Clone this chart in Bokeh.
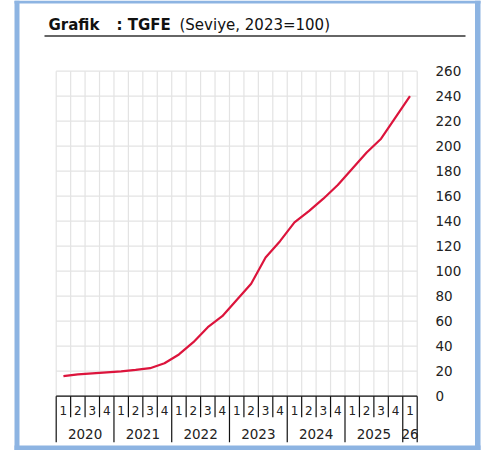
from bokeh.plotting import figure
from bokeh.models import Range1d
from bokeh.core.properties import value
from bokeh.embed import file_html
from bokeh.resources import INLINE

# ---- data ----
years = ["2020", "2021", "2022", "2023", "2024", "2025", "26"]
quarters_per_year = [4, 4, 4, 4, 4, 4, 1]
quarter_labels = ["1", "2", "3", "4"] * 6 + ["1"]
tgfe = [16, 17.4, 18.2, 19, 19.8, 21, 22.4, 26.4,
        33.4, 43.2, 55.2, 64, 77, 90, 111, 124,
        139, 148, 158, 169, 182, 195, 206, 223, 240]
y_ticks = list(range(0, 261, 20))
title_parts = ["Grafik", ": TGFE", "(Seviye, 2023=100)"]
title_styles = ["bold", "bold", "normal"]

FONT = "DejaVu Sans"
TXT = "#222222"
GRID = "#E3E3E3"
BLUE = "#8DB4E2"

n = len(tgfe)
centers = [i + 0.5 for i in range(n)]

# ---- page-pixel layout helpers (canvas fills the 486x450 page from 0,0) ----
PLOT_X0, CAT_W = 55.7, 361 / n      # x of the first category edge, px per category
ZERO_Y, UNIT_H = 395.7, 1.25        # y of value 0, px per value unit
W, H = 486, 450


def dx(px):
    return (px - PLOT_X0) / CAT_W


def dy(py):
    return (ZERO_Y - py) / UNIT_H


p = figure(width=W, height=H, output_backend="svg", toolbar_location=None,
           x_axis_type=None, y_axis_type=None,
           x_range=Range1d(dx(0), dx(W)), y_range=Range1d(dy(H), dy(0)),
           min_border=0, min_border_left=0, min_border_right=0,
           min_border_top=0, min_border_bottom=0)
p.outline_line_color = None
p.background_fill_color = "white"
p.border_fill_color = "white"

# blue frame round the panel (left, right, bottom, top)
p.quad(left=[dx(14), dx(474.5), dx(14), dx(14)], right=[dx(19), dx(480), dx(480), dx(480)],
       bottom=[dy(450), dy(450), dy(450), dy(3)], top=[dy(0), dy(0), dy(445), dy(0)],
       fill_color=BLUE, line_color=None)

# grid (0..260)
bounds = list(range(n + 1))
p.segment(x0=[0] * len(y_ticks), y0=y_ticks, x1=[n] * len(y_ticks), y1=y_ticks,
          line_color=GRID, line_width=1.2)
p.segment(x0=bounds, y0=[0] * len(bounds), x1=bounds, y1=[y_ticks[-1]] * len(bounds),
          line_color=GRID, line_width=1.2)

# value labels on the right
p.text(x=[dx(435)] * len(y_ticks), y=y_ticks, text=[str(t) for t in y_ticks],
       text_align="left", text_baseline="middle", text_font=value(FONT),
       text_font_size="13.5px", text_color=TXT)

# two-level category axis below zero
year_starts = [sum(quarters_per_year[:k]) for k in range(len(years))]
year_bounds = set(year_starts + [n])
q_bottom, y_bottom = dy(416.7), dy(441.7)
seg_y1 = [y_bottom if b in year_bounds else q_bottom for b in bounds]
p.segment(x0=bounds, y0=[0] * len(bounds), x1=bounds, y1=seg_y1,
          line_color="#111111", line_width=1.2)
p.segment(x0=[0], y0=[0], x1=[n], y1=[0], line_color="#111111", line_width=1.2)

p.text(x=centers, y=[dy(410)] * n, text=quarter_labels, text_align="center",
       text_baseline="middle", text_font=value(FONT), text_font_size="12px", text_color=TXT)
year_centers = [s + q / 2 for s, q in zip(year_starts, quarters_per_year)]
p.text(x=year_centers, y=[dy(433)] * len(years), text=years, text_align="center",
       text_baseline="middle", text_font=value(FONT), text_font_size="13.5px", text_color=TXT)

# series
p.line(x=centers, y=tgfe, line_color="#DC143C", line_width=2.2)

# title and rule
title_x = [dx(48), dx(116), dx(179)]
for txt, x0, style in zip(title_parts, title_x, title_styles):
    p.text(x=[x0], y=[dy(24.5)], text=[txt], text_align="left",
           text_baseline="alphabetic", text_font=value(FONT), text_font_size="15px",
           text_font_style=style, text_color="#111111")
p.segment(x0=[dx(44)], y0=[dy(35.5)], x1=[dx(465)], y1=[dy(35.5)],
          line_color="#333333", line_width=1.5)

open("out.html", "w").write(file_html(p, INLINE))
